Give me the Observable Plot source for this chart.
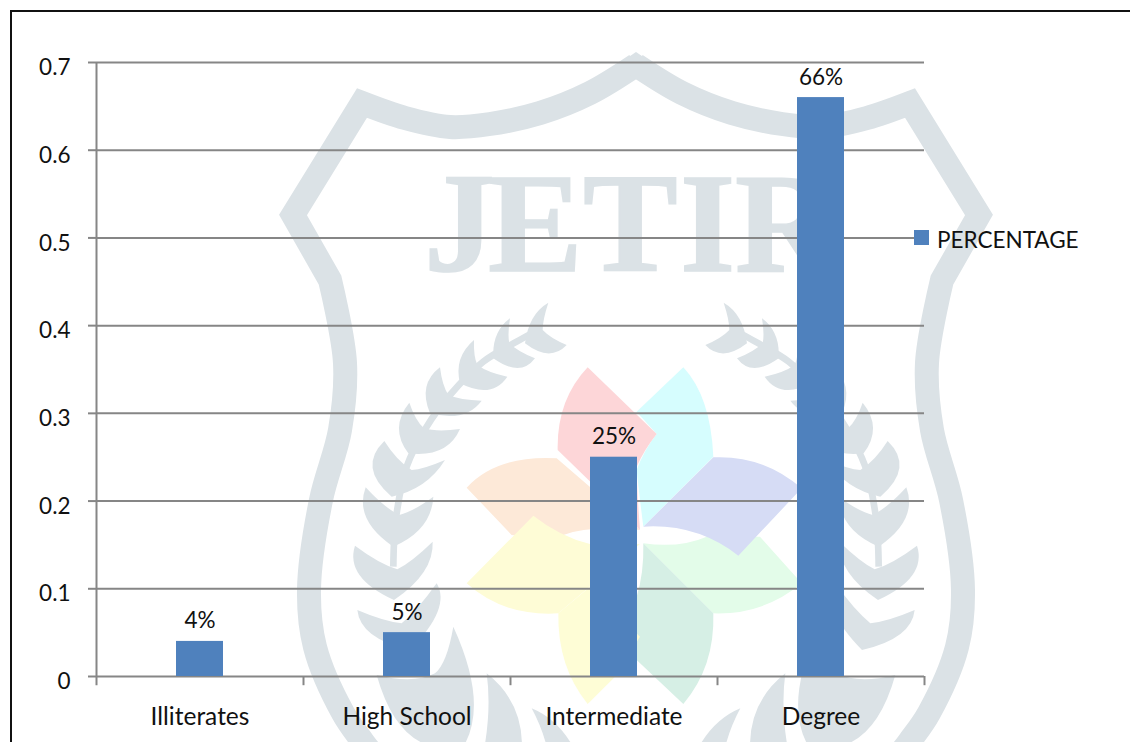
<!DOCTYPE html>
<html>
<head>
<meta charset="utf-8">
<script src="https://cdn.jsdelivr.net/npm/d3@7"></script>
<script src="https://cdn.jsdelivr.net/npm/@observablehq/plot@0.6"></script>
<style>
  html, body { margin: 0; padding: 0; background: #fff; overflow: hidden; }
  #page { position: relative; width: 1130px; height: 742px; overflow: hidden; font-family: Lato, Carlito, sans-serif; color: #111; }
  #page > svg { position: absolute; left: 0; top: 0; }
  #frame { position: absolute; left: 10px; top: 10px; width: 1200px; height: 800px; box-sizing: border-box; border-top: 2px solid #111; border-left: 2px solid #111; }
  #legend { position: absolute; left: 914px; top: 227px; display: flex; align-items: center; font-size: 22.5px; line-height: 24px; white-space: nowrap; }
  #legend i { display: block; width: 15px; height: 15px; background: #4f81bd; margin-right: 8px; position: relative; top: -2px; }
  #legend span { position: relative; top: 1px; }
</style>
</head>
<body>
<div id="page">
  <svg id="seal" width="1130" height="742" viewBox="0 0 1130 742"></svg>
  <div id="frame"></div>
  <div id="legend"><i></i><span>PERCENTAGE</span></div>
</div>
<script>
// Education levels and the share of respondents at each
const categories = ["Illiterates", "High School", "Intermediate", "Degree"];
const shares = [0.04, 0.05, 0.25, 0.66];
const shareLabels = ["4%", "5%", "25%", "66%"];
const yTicks = [0, 0.1, 0.2, 0.3, 0.4, 0.5, 0.6, 0.7];
const seriesName = "PERCENTAGE";

const rows = categories.map((category, i) => ({category, share: shares[i], label: shareLabels[i]}));

const axisGrey = "#868686";
const barBlue = "#4f81bd";
const sealGrey = "#dbe2e6";
const labelSize = 22.5;

// Half a category step in pixels, for ticks that sit between the bars
const halfStep = 103.5;
const tickDrop = -0.0105;

const chart = Plot.plot({
  width: 1130,
  height: 742,
  marginLeft: 96,
  marginRight: 206,
  marginTop: 62,
  marginBottom: 66,
  style: {background: "transparent", fontFamily: "Lato, Carlito, sans-serif", color: "#111"},
  x: {domain: categories, paddingInner: 0.773, paddingOuter: 0.3865, align: 0.5, label: null},
  y: {domain: [0, 0.7], label: null},
  marks: [
    Plot.ruleY(yTicks, {stroke: axisGrey, strokeWidth: 2}),
    Plot.axisY({ticks: yTicks, tickSize: 8, fill: "none", stroke: axisGrey, strokeWidth: 2, strokeOpacity: 1, label: null}),
    Plot.text(yTicks, {y: d => d, text: d => String(d), frameAnchor: "left", textAnchor: "end", dx: -26, dy: 5.5, fontSize: labelSize, fill: "#111"}),
    Plot.ruleX([categories[0]], {x: d => d, y1: tickDrop, y2: 0.7, dx: -halfStep, stroke: axisGrey, strokeWidth: 2}),
    Plot.ruleX(categories, {x: d => d, y1: tickDrop, y2: 0, dx: halfStep, stroke: axisGrey, strokeWidth: 2}),
    Plot.barY(rows, {x: "category", y: "share", fill: barBlue}),
    Plot.text(rows, {x: "category", y: "share", text: "label", lineAnchor: "bottom", dy: -13, fontSize: labelSize, fill: "#111"}),
    Plot.axisX({tickSize: 0, tickPadding: 31, fontSize: 24.5, fill: "#111", label: null})
  ]
});
document.getElementById("page").insertBefore(chart, document.getElementById("frame"));
document.querySelector("#legend span").textContent = seriesName;

// Background seal: shield outline, lettering, laurel branches and flower
const seal = d3.select("#seal");

const shieldTop = [[636, 65], [590, 93], [540, 113], [490, 124], [450, 127], [405, 118], [362, 103]];
const shieldFlank = [[330, 280], [345, 363], [340, 430], [321, 500], [309, 590], [315, 647], [343, 713], [363, 742], [385, 770]];
const curved = d3.line().curve(d3.curveCatmullRom.alpha(0.5));
function shieldSide(g) {
  // The band runs straight between the shoulder corners, curved elsewhere
  const d = curved(shieldTop) + "L293,215" + curved(shieldFlank).replace(/^M/, "L");
  g.append("path").attr("d", d).attr("fill", "none").attr("stroke", sealGrey).attr("stroke-width", 24)
    .attr("stroke-linejoin", "miter").attr("stroke-miterlimit", 10);
}
// Pointed crown where the two halves of the band meet
seal.append("path").attr("fill", sealGrey).attr("d", "M636,52L596,79L606,97L636,78L666,97L676,79Z");
seal.append("text").text("JETIR")
  .attr("x", "424 488 583 680 735").attr("y", 271)
  .attr("font-family", "Liberation Serif").attr("font-weight", "bold").attr("font-size", 142)
  .attr("fill", sealGrey).attr("stroke", sealGrey).attr("stroke-width", 1.5);

// One pair of laurel leaves from its two tips, the base and the notch between them
function leafPair([ax, ay], [bx, by], [nx, ny], [cx, cy]) {
  const bulge = (px, py) => {
    const mx = (px + bx) / 2, my = (py + by) / 2;
    return [mx + (mx - nx) * 1.3, my + (my - ny) * 1.3];
  };
  const pull = (px, py) => [(px + nx) / 2 + (bx - (px + nx) / 2) * 0.14, (py + ny) / 2 + (by - (py + ny) / 2) * 0.14];
  const o1 = bulge(ax, ay), o2 = bulge(cx, cy), i2 = pull(cx, cy), i1 = pull(ax, ay);
  return `M${ax},${ay}Q${o1} ${bx},${by}Q${o2} ${cx},${cy}Q${i2} ${nx},${ny}Q${i1} ${ax},${ay}Z`;
}
const leafPairs = [
  [[835, 68], [765, 190], [818, 150], [890, 195]],
  [[720, 115], [670, 235], [718, 190], [795, 235]],
  [[612, 180], [570, 310], [622, 255], [712, 290]],
  [[510, 262], [480, 400], [535, 345], [635, 362]],
  [[418, 368], [415, 520], [462, 445], [570, 447]],
  [[343, 483], [365, 650], [425, 570], [525, 540]],
  [[287, 622], [370, 800], [388, 705], [490, 650]],
  [[255, 797], [372, 960], [382, 868], [488, 785]],
  [[262, 990], [420, 1110], [395, 1030], [500, 910]],
  [[320, 1185], [580, 1400], [495, 1180], [550, 1040]]
];
const extraLeaves = [
  "M650,1180Q765,1270 755,1420L640,1420Q665,1290 650,1180Z",
  "M785,1285Q870,1320 920,1420L835,1420Q820,1350 785,1285Z"
];
const stem = [[370, 860], [372, 790], [380, 700], [410, 560], [470, 440], [540, 345], [640, 245], [740, 185], [785, 160]];

function laurel(g) {
  const inner = g.append("g").attr("transform", "translate(270 280) scale(0.33333)").attr("fill", sealGrey);
  inner.append("path").attr("d", d3.line().curve(d3.curveCatmullRom)(stem)).attr("fill", "none").attr("stroke", sealGrey).attr("stroke-width", 20);
  leafPairs.forEach(p => inner.append("path").attr("d", leafPair(...p)));
  extraLeaves.forEach(d => inner.append("path").attr("d", d));
}
const leftSide = seal.append("g");
const rightSide = seal.append("g").attr("transform", "translate(1272 0) scale(-1 1)");
[leftSide, rightSide].forEach(g => { shieldSide(g); laurel(g); });

// Flower petals, back to front
const petals = [
  ["#d6fdfe", "M730,82Q812,170 820,350L610,560Q596,450 590,390Q612,330 650,282L590,215Z"],
  ["#e3fce9", "M610,610Q720,625 800,590L960,590L1085,730Q970,825 820,820Z"],
  ["#d6efe5", "M610,610L820,820Q825,980 730,1092L590,960L590,770Q612,700 610,610Z"],
  ["#fde9d8", "M80,443Q170,345 350,355L600,570Q450,555 370,585L345,600L215,585Z"],
  ["#fefdd6", "M443,1092Q352,980 355,820L450,740L600,890L525,1010Z"],
  ["#fefcd6", "M80,730L280,527Q360,590 450,612L600,612L355,820Q190,830 80,730Z"],
  ["#fdd6d8", "M443,82Q350,180 353,330L600,570Q590,440 590,380Q612,330 650,282Z"],
  ["#d6dcf5", "M1085,445Q970,345 820,352L610,560Q770,550 895,647Z"]
];
const flower = seal.append("g").attr("transform", "translate(440 340) scale(0.33333)");
petals.forEach(([fill, d]) => flower.append("path").attr("fill", fill).attr("d", d));
</script>
</body>
</html>
